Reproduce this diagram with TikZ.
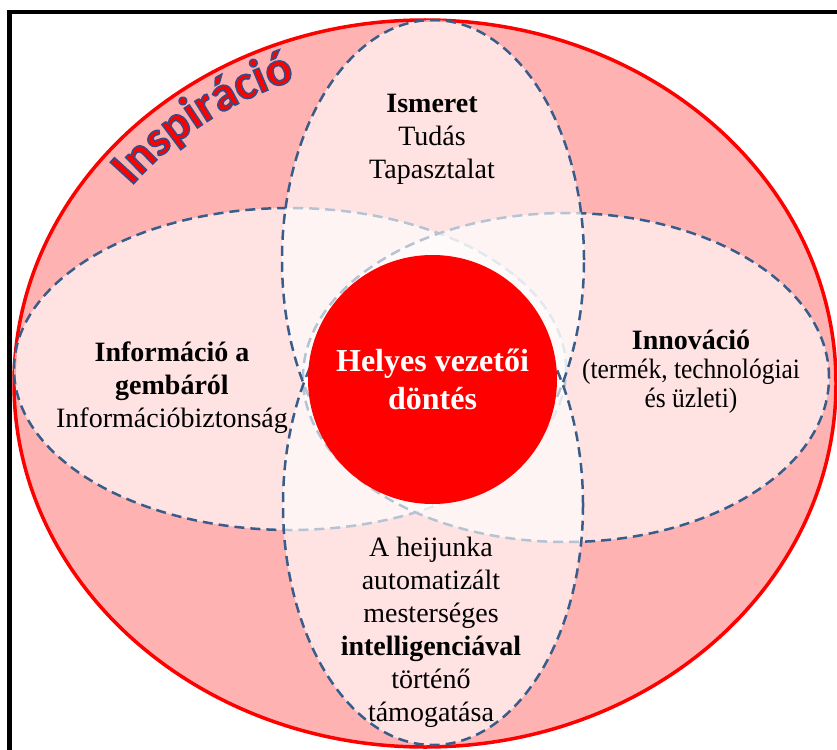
\documentclass[tikz,border=0pt]{standalone}
\usepackage{graphicx}
\usepackage{fontspec}
\setmainfont{Liberation Serif}
\newfontfamily\inspfont{Carlito}[BoldFeatures={RawFeature={embolden=3}}]
\usetikzlibrary{decorations.text}
\definecolor{outerpink}{RGB}{255,178,178}
\definecolor{dashblue}{RGB}{56,93,138}
\definecolor{insred}{RGB}{255,0,0}
\tikzset{
  petal/.style={fill=white, fill opacity=0.63, draw=dashblue, draw opacity=1,
    line width=2.5pt, dash pattern=on 10pt off 6pt},
  lbl/.style={align=center, font=\fontsize{28}{33}\selectfont, inner sep=0pt, text=black},
  insp/.style={decorate, decoration={text along path,
    text={|\inspfont\bfseries\fontsize{49}{49}\selectfont\color{insred}\special{pdf:literal direct 0.18 0.31 0.55 RG}|Inspiráció}}},
}
\begin{document}
\begin{tikzpicture}[x=1pt,y=-1pt]
\useasboundingbox (0,0) rectangle (837,749);
\fill[white] (0,0) rectangle (837,749);
% outer ellipse
\draw[red, line width=3.5pt, fill=outerpink] (425,383.5) ellipse[x radius=411pt, y radius=363.5pt];
% petals
\path[petal] (290,369) ellipse[x radius=276pt, y radius=161pt];
\path[petal] (566,377.5) ellipse[x radius=263pt, y radius=164.5pt];
\path[petal] (433,260) ellipse[x radius=151pt, y radius=240pt];
\path[petal] (433,505) ellipse[x radius=150pt, y radius=240pt];
% centre
\node[circle, fill=red, minimum size=249pt, inner sep=0pt, text=white, align=center,
  font=\bfseries\fontsize{32}{38}\selectfont] (center) at (432.5,379.5) {Helyes vezetői\\döntés};
% labels
\node[lbl] (ismeret) at (432,139) {\textbf{Ismeret}\\Tudás\\Tapasztalat};
\node[lbl] (info) at (172,387.5) {\textbf{Információ a}\\\textbf{gembáról}\\Információbiztonság};
\node[lbl, font=\fontsize{28}{29}\selectfont] (innov) at (691,372) {\textbf{Innováció}\\\scalebox{0.91}[1]{(termék, technológiai}\\\scalebox{0.91}[1]{és üzleti)}};
\node[lbl] (heij) at (431,632) {A heijunka\\automatizált\\mesterséges\\\textbf{intelligenciával}\\történő\\támogatása};
% Inspiracio
\path[insp]
    ([shift={(142.5:370pt and 324pt)}]425,383.5) arc[start angle=142.5, end angle=80, x radius=370pt, y radius=324pt];
% frame
\draw[line width=4.5pt] (9.5,12.2) rectangle (900,800);
\end{tikzpicture}
\end{document}
